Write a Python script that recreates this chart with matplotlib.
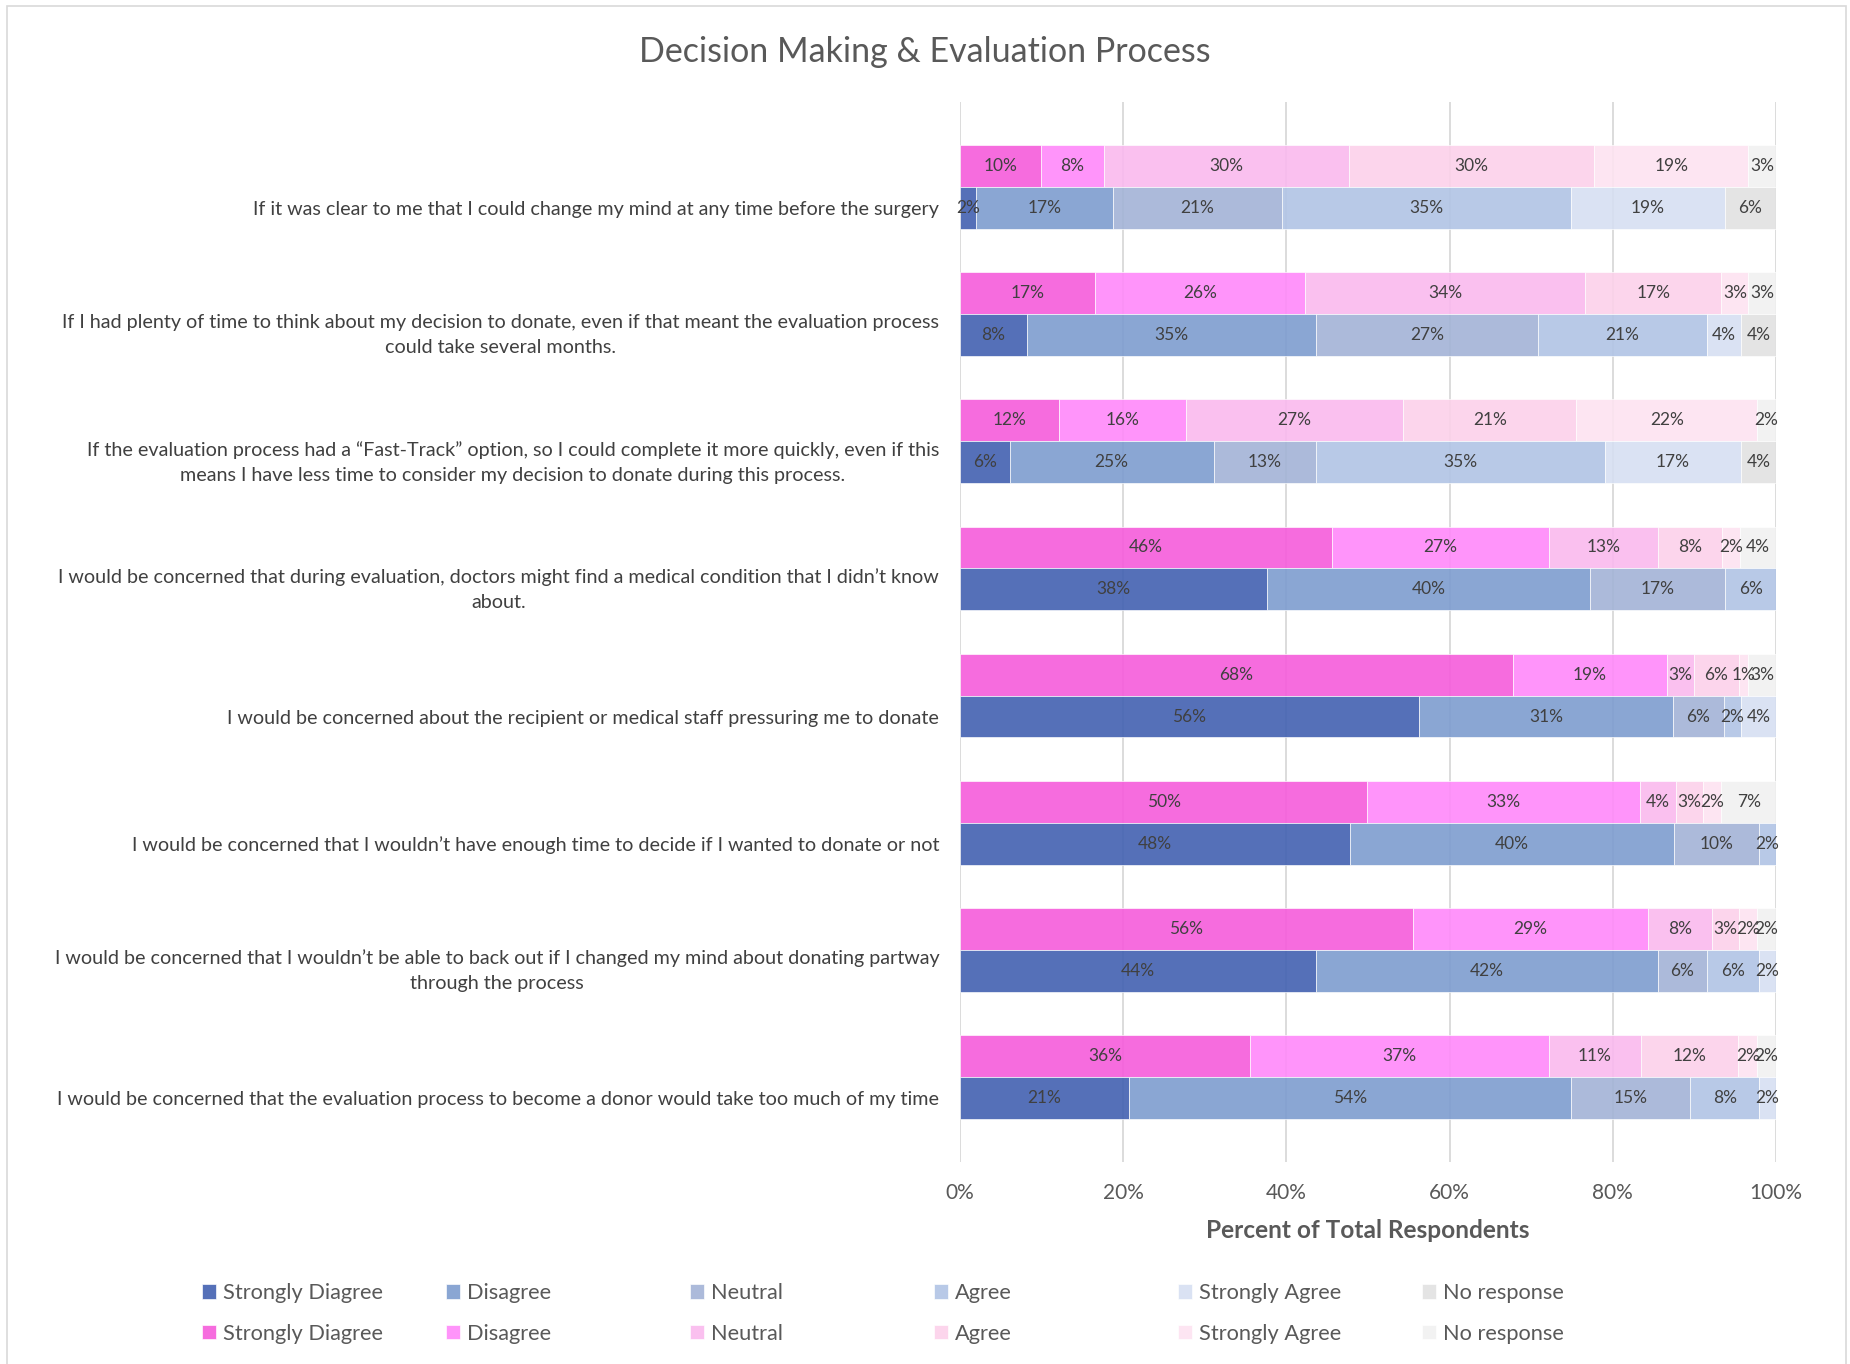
import matplotlib.pyplot as plt
from matplotlib.patches import Rectangle
import numpy as np

plt.rcParams['font.family'] = ['Lato', 'DejaVu Sans']

questions = [
    "If it was clear to me that I could change my mind at any time before the surgery",
    "If I had plenty of time to think about my decision to donate, even if that meant the evaluation process\ncould take several months.",
    "If the evaluation process had a \u201cFast-Track\u201d option, so I could complete it more quickly, even if this\nmeans I have less time to consider my decision to donate during this process.",
    "I would be concerned that during evaluation, doctors might find a medical condition that I didn\u2019t know\nabout.",
    "I would be concerned about the recipient or medical staff pressuring me to donate",
    "I would be concerned that I wouldn\u2019t have enough time to decide if I wanted to donate or not",
    "I would be concerned that I wouldn\u2019t be able to back out if I changed my mind about donating partway\nthrough the process",
    "I would be concerned that the evaluation process to become a donor would take too much of my time",
]

levels = ['Strongly Diagree', 'Disagree', 'Neutral', 'Agree', 'Strongly Agree', 'No response']

# upper (pink) bar of each pair, percent per level
pink_vals = np.array([
    [9.9, 7.7, 30.1, 30.0, 18.9, 3.4],
    [16.6, 25.7, 34.4, 16.7, 3.3, 3.4],
    [12.1, 15.6, 26.7, 21.2, 22.2, 2.3],
    [45.6, 26.6, 13.4, 7.8, 2.2, 4.4],
    [67.8, 18.9, 3.3, 5.6, 1.1, 3.4],
    [49.9, 33.4, 4.4, 3.3, 2.3, 6.7],
    [55.6, 28.9, 7.8, 3.3, 2.3, 2.3],
    [35.6, 36.6, 11.2, 12.0, 2.3, 2.3],
])

# lower (blue) bar of each pair
blue_vals = np.array([
    [1.9, 16.8, 20.7, 35.4, 18.8, 6.3],
    [8.2, 35.4, 27.2, 20.7, 4.2, 4.3],
    [6.1, 25.0, 12.6, 35.4, 16.7, 4.3],
    [37.6, 39.6, 16.6, 6.2, 0.0, 0.0],
    [56.2, 31.2, 6.2, 2.1, 4.3, 0.0],
    [47.8, 39.6, 10.4, 2.1, 0.0, 0.0],
    [43.6, 41.8, 6.1, 6.3, 2.1, 0.0],
    [20.7, 54.3, 14.6, 8.4, 2.1, 0.0],
])

blue_colors = ['#4261B1', '#7D9CCF', '#A3B3D6', '#B1C4E5', '#D6DFF2', '#E2E2E2']
pink_colors = ['#F65CDB', '#FF89FA', '#FAB9EE', '#FCD1EA', '#FDE3F1', '#F1F1F1']

fig = plt.figure(figsize=(18.5, 13.64), dpi=100)
ax = fig.add_axes([960 / 1850, 1 - 1162 / 1364, 816 / 1850, 1060 / 1364])

y = np.arange(len(questions))
h = 0.33

def stack(vals, colors, offset):
    widths = vals / vals.sum(axis=1, keepdims=True) * 100
    left = np.zeros(len(vals))
    bars = []
    for j in range(len(levels)):
        b = ax.barh(y + offset, widths[:, j], height=h, left=left, color=colors[j],
                    alpha=0.9, edgecolor='white', linewidth=0.5, label=levels[j])
        labels = [f"{v:.0f}%" if v > 0 else '' for v in vals[:, j]]
        ax.bar_label(b, labels=labels, label_type='center', fontsize=12.5, color='#404040')
        left = left + widths[:, j]
        bars.append(b)
    return bars

pink_bars = stack(pink_vals, pink_colors, -h / 2)
blue_bars = stack(blue_vals, blue_colors, h / 2)

ax.set_xlim(0, 100)
ax.set_ylim(7.67, -0.67)
ax.set_xticks(range(0, 101, 20))
ax.set_xticklabels([f"{t}%" for t in range(0, 101, 20)])
ax.set_yticks(y + h / 2)
ax.set_yticklabels(questions)
for lbl in ax.get_yticklabels():
    lbl.set_multialignment('center')
    lbl.set_linespacing(1.6)
    if '\n' in lbl.get_text():
        lbl.set_verticalalignment('center')
ax.tick_params(axis='x', length=0, pad=15, labelsize=15, labelcolor='#595959')
ax.tick_params(axis='y', length=0, pad=15, labelsize=14.25, labelcolor='#404040')
ax.xaxis.grid(True, color='#D9D9D9', linewidth=1.3)
ax.set_axisbelow(True)
for s in ax.spines.values():
    s.set_visible(False)
ax.set_xlabel('Percent of Total Respondents', fontsize=17.6, fontweight='bold',
              color='#595959', labelpad=12)

fig.text(0.5, 1 - 52 / 1364, 'Decision Making & Evaluation Process', ha='center',
         va='center', fontsize=24.5, color='#595959')

# legend: one small legend per response level, blue row on top, pink row below
for j in range(len(levels)):
    fig.legend(handles=[blue_bars[j], pink_bars[j]], labels=[levels[j], levels[j]],
               loc='upper left', bbox_to_anchor=((202 + 244 * j) / 1850, 1 - 1283 / 1364),
               frameon=False, fontsize=15.7, labelcolor='#595959', handlelength=0.65,
               handleheight=0.65, handletextpad=0.3, labelspacing=0.95,
               borderpad=0, borderaxespad=0)

fig.add_artist(Rectangle((7 / 1850, -0.05), 1839 / 1850, 1.05 - 6 / 1364,
                         transform=fig.transFigure, fill=False, edgecolor='#D9D9D9',
                         linewidth=1.2))

fig.savefig('out.png', dpi=100)
